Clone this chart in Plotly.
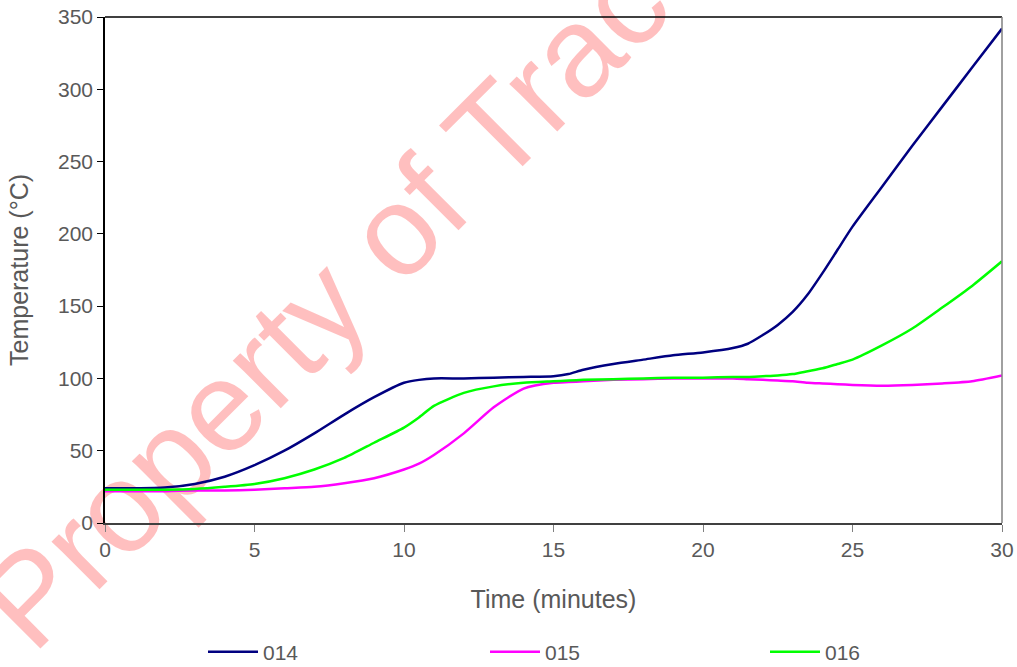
import plotly.graph_objects as go

# Time axis (minutes) shared by all three test runs
time_min = [0, 1, 2, 3, 4, 5, 6, 7, 8, 9, 10, 10.5, 11, 12, 13, 14, 15, 15.5, 16, 17,
            18, 19, 20, 21, 21.5, 22, 22.5, 23, 23.5, 24, 24.5, 25, 26, 27, 28, 29, 30]

# Temperatures (°C)
temp_014 = [24, 24, 24.5, 27, 32, 40, 50, 62, 75, 87, 97, 99, 100, 100, 100.5, 101, 101.5, 103, 106, 110,
            113, 116, 118, 121, 124, 130, 137, 146, 158, 173, 189, 205, 233, 261, 288, 315, 342]
temp_015 = [22, 22, 22, 22.5, 22.5, 23, 24, 25, 27.5, 31, 37, 41, 47, 62, 80, 93, 97, 97.5, 98, 99,
            99.5, 100, 100, 100, 99.5, 99, 98.5, 98, 97, 96.5, 96, 95.5, 95, 95.5, 96.5, 98, 102]
temp_016 = [23, 23, 23, 23.5, 25, 27, 31, 37, 45, 55.5, 66, 73, 81, 90, 94.5, 97, 98, 98.5, 99, 99.5,
            100, 100.5, 100.5, 101, 101, 101.5, 102, 103, 105, 107, 110, 113, 123, 134.5, 149, 164, 181]

series_names = ["014", "015", "016"]
series_colors = ["#000080", "#FF00FF", "#00FF00"]

x_ticks = [0, 5, 10, 15, 20, 25, 30]
y_ticks = [0, 50, 100, 150, 200, 250, 300, 350]

watermark = "Property of Tracerco"

FONT = "Arial, 'Liberation Sans', sans-serif"
GREY = "#595959"

# plot area geometry in pixels
W, H = 1017, 667
ml, mr, mt, mb = 105, 15, 17, 144
pw, ph = W - ml - mr, H - mt - mb


def px_to_paper(px, py):
    return (px - ml) / pw, (H - mb - py) / ph


# one legend per series so each entry sits at its own spot along the bottom
legend_ids = ["legend", "legend2", "legend3"]
legend_left_px = [203, 485, 765]

fig = go.Figure()
for name, vals, col, lid in zip(series_names, [temp_014, temp_015, temp_016], series_colors, legend_ids):
    fig.add_trace(go.Scatter(
        x=time_min, y=vals, name=name, mode="lines", legend=lid,
        line=dict(color=col, width=2.5, shape="spline", smoothing=0.6),
    ))

legend_layout = {}
for lid, lx in zip(legend_ids, legend_left_px):
    legend_layout[lid] = dict(
        orientation="h", x=px_to_paper(lx, 0)[0], xanchor="left",
        y=px_to_paper(0, 652)[1], yanchor="middle", itemwidth=50,
        bgcolor="rgba(0,0,0,0)",
        font=dict(family=FONT, size=21, color=GREY),
    )

# watermark text laid along an invisible diagonal line, beneath the traces
cx, cy = 403, 206
x0, y0 = px_to_paper(cx - 400, cy + 400)
x1, y1 = px_to_paper(cx + 400, cy - 400)
fig.add_shape(
    type="line", xref="paper", yref="paper", x0=x0, y0=y0, x1=x1, y1=y1,
    layer="below", line=dict(color="rgba(0,0,0,0)", width=0),
    label=dict(text=watermark, textposition="middle", textangle=-45,
               xanchor="center", yanchor="middle", padding=0,
               font=dict(family=FONT, size=128, color="rgba(255,0,0,0.25)")),
)

# frame: black top edge, grey right edge
fig.add_shape(type="line", xref="paper", yref="paper", x0=0, x1=1, y0=1, y1=1,
              line=dict(color="black", width=1.5))
fig.add_shape(type="line", xref="paper", yref="paper", x0=1, x1=1, y0=0, y1=1,
              line=dict(color="#808080", width=1.5))

fig.update_layout(
    width=W, height=H,
    margin=dict(l=ml, r=mr, t=mt, b=mb, autoexpand=False),
    paper_bgcolor="white", plot_bgcolor="white",
    font=dict(family=FONT, size=21, color=GREY),
    showlegend=True,
    **legend_layout,
)
fig.update_xaxes(
    range=[0, 30], tickvals=x_ticks, showgrid=False, zeroline=False,
    showline=True, linecolor="#404040", linewidth=1.5,
    ticks="outside", ticklen=7, tickcolor="#808080",
    title=dict(text="Time (minutes)", standoff=31), automargin=False,
)
fig.update_yaxes(
    range=[0, 350], tickvals=y_ticks, showgrid=False, zeroline=False,
    showline=True, linecolor="black", linewidth=1.5,
    ticks="outside", ticklen=6, tickcolor="black",
    title=dict(text="Temperature (°C)", standoff=22), automargin=False,
)

fig.write_html("out.html")
